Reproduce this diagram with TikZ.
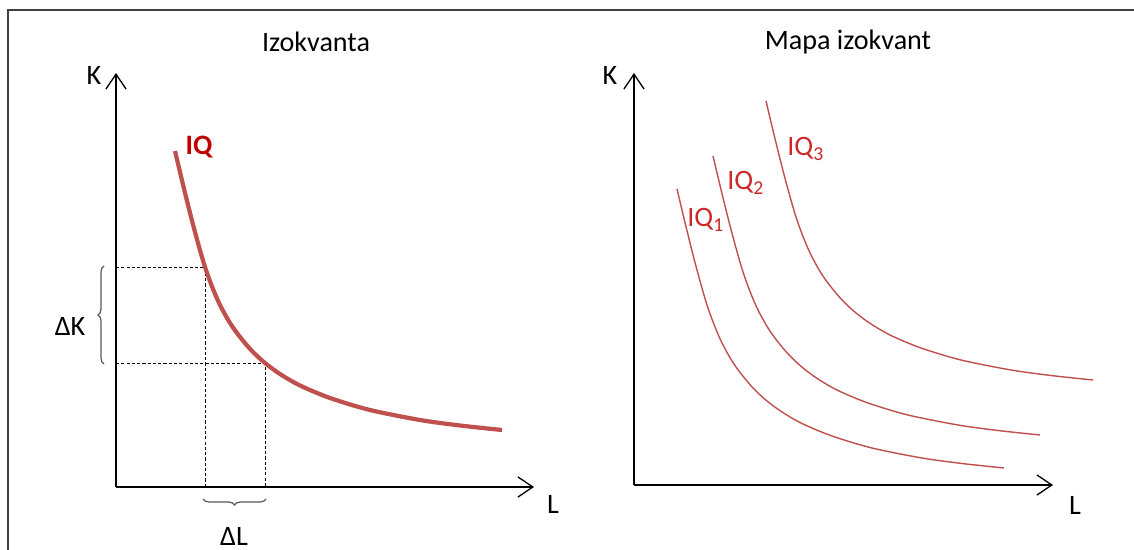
\documentclass[tikz,border=0pt]{standalone}
\usepackage{fontspec}
\setmainfont{Carlito}
\usetikzlibrary{arrows.meta,decorations.pathreplacing}
\definecolor{curvered}{RGB}{192,80,77}
\definecolor{labred}{RGB}{192,0,0}
\definecolor{iqred}{RGB}{205,40,40}
\begin{document}
\begin{tikzpicture}[x=0.02cm,y=-0.02cm,
  every node/.style={font=\fontsize{16}{19}\selectfont, inner sep=0pt},
  axis/.style={line width=0.75pt, -{Straight Barb[length=8.5pt,width=11.5pt,line width=0.75pt]}},
  guide/.style={line width=0.55pt, dash pattern=on 1.8pt off 1.2pt},
  brc/.style={draw=black!65, line width=0.7pt, decorate, decoration={brace, amplitude=3.4pt}},
  iqcurve/.pic={\draw[pic actions] plot[smooth, tension=0.5] coordinates {(175,151) (184,188.7) (192,220.7) (199,246.6) (205,267) (212,286.5) (220,305) (230,323) (240,337) (252,351) (265,363) (280,374) (300,385.5) (330,398) (370,410) (420,420) (460,425.5) (502,430)};}
]
\useasboundingbox (0,0) rectangle (1134,550);
% frame
\draw[line width=1.4pt, black!75] (8,550) -- (8,10) -- (1134,10);

% ---------- left: Izokvanta ----------
\node (t1) at (316,42) {Izokvanta};
\coordinate (o1) at (116,487);
\coordinate (ky1) at (116,73);
\coordinate (lx1) at (534,487);
\draw[axis] (o1) -- (ky1);
\draw[axis] (o1) -- (lx1);
\node (k1) at (94,75) {K};
\node (l1) at (553,504) {L};

\coordinate (a) at (205,267);
\coordinate (b) at (265,363);
\draw[guide] (116,267) -- (a) -- (205,487);
\draw[guide] (116,363) -- (b) -- (265,487);

\pic[draw=curvered, line width=2.4pt] at (0,0) {iqcurve};
\node[text=labred, font=\fontsize{16}{19}\selectfont\bfseries] (iq) at (199,147) {IQ};

\draw[brc] (104,364) -- (104,266);
\node (dk) at (70,326) {ΔK};
\draw[brc] (266,499) -- (203,499);
\node (dl) at (234,536) {ΔL};

% ---------- right: Mapa izokvant ----------
\node (t2) at (848,42) {Mapa izokvant};
\coordinate (o2) at (634,485);
\coordinate (ky2) at (634,73);
\coordinate (lx2) at (1053,485);
\draw[axis] (o2) -- (ky2);
\draw[axis] (o2) -- (lx2);
\node (k2) at (610,75) {K};
\node (l2) at (1075,505) {L};

\pic[draw=curvered, line width=0.8pt] at (502,38) {iqcurve};
\pic[draw=curvered, line width=0.8pt] at (538,5) {iqcurve};
\pic[draw=curvered, line width=0.8pt] at (591,-50) {iqcurve};

\node[text=iqred, anchor=base west] (iq1) at (687,227) {IQ\textsubscript{1}};
\node[text=iqred, anchor=base west] (iq2) at (727,190) {IQ\textsubscript{2}};
\node[text=iqred, anchor=base west] (iq3) at (787,156) {IQ\textsubscript{3}};
\end{tikzpicture}
\end{document}
